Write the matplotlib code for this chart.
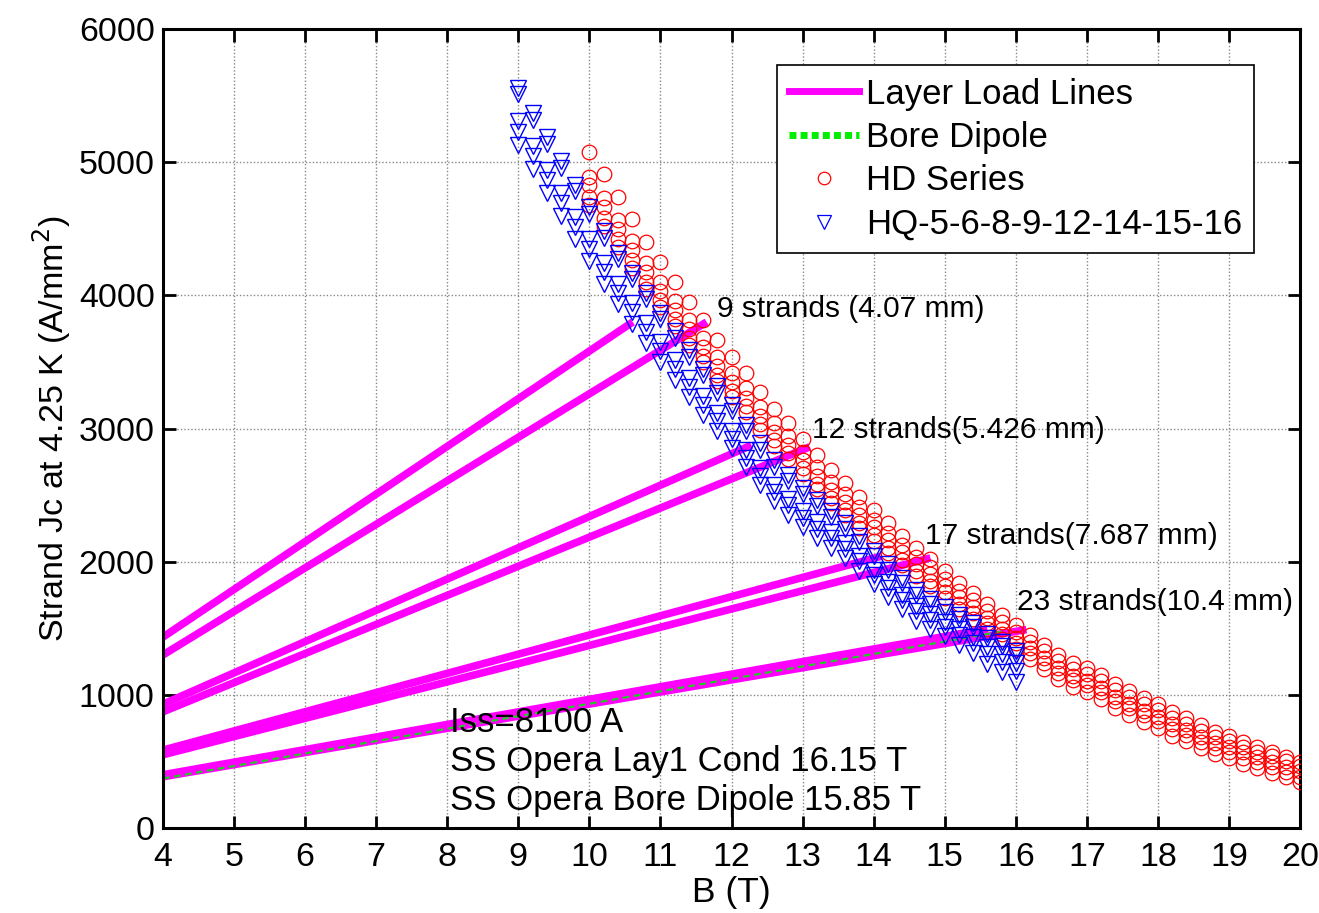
import numpy as np
import matplotlib
matplotlib.use("Agg")
import matplotlib.pyplot as plt
from matplotlib.lines import Line2D

plt.rcParams['font.family'] = ['Liberation Sans', 'DejaVu Sans']

# ---------------- data ----------------
hd_B = [10.0, 10.2, 10.4, 10.6, 10.8, 11.0, 11.2, 11.4, 11.6, 11.8,
        12.0, 12.2, 12.4, 12.6, 12.8, 13.0, 13.2, 13.4, 13.6, 13.8,
        14.0, 14.2, 14.4, 14.6, 14.8, 15.0, 15.2, 15.4, 15.6, 15.8,
        16.0, 16.2, 16.4, 16.6, 16.8, 17.0, 17.2, 17.4, 17.6, 17.8,
        18.0, 18.2, 18.4, 18.6, 18.8, 19.0, 19.2, 19.4, 19.6, 19.8, 20.0]
hd_1 = [5080, 4910, 4740, 4573, 4403, 4252, 4102, 3952, 3815, 3664,
        3539, 3416, 3275, 3146, 3041, 2921, 2801, 2688, 2590, 2486,
        2388, 2290, 2193, 2102, 2020, 1930, 1840, 1765, 1682, 1600,
        1524, 1449, 1374, 1299, 1239, 1201, 1149, 1081, 1029, 976,
        931, 871, 826, 773, 721, 691, 646, 608, 571, 533, 496]
hd_2 = [4890, 4728, 4566, 4407, 4245, 4102, 3958, 3814, 3683, 3538,
        3419, 3301, 3165, 3041, 2941, 2826, 2710, 2601, 2507, 2407,
        2313, 2218, 2124, 2036, 1957, 1870, 1782, 1709, 1628, 1548,
        1474, 1400, 1326, 1252, 1193, 1156, 1104, 1036, 984, 931,
        886, 827, 783, 731, 680, 651, 608, 572, 537, 501, 466]
hd_3 = [4830, 4666, 4502, 4341, 4177, 4032, 3888, 3744, 3613, 3468,
        3349, 3232, 3097, 2974, 2875, 2761, 2647, 2540, 2448, 2350,
        2258, 2164, 2071, 1984, 1906, 1820, 1732, 1659, 1578, 1498,
        1424, 1350, 1276, 1202, 1143, 1106, 1054, 986, 934, 881,
        836, 779, 737, 687, 638, 611, 568, 532, 497, 461, 426]
hd_4 = [4740, 4580, 4420, 4263, 4103, 3962, 3819, 3676, 3546, 3402,
        3284, 3168, 3034, 2912, 2814, 2701, 2587, 2480, 2388, 2290,
        2198, 2106, 2015, 1930, 1854, 1770, 1685, 1615, 1537, 1460,
        1389, 1315, 1241, 1167, 1108, 1071, 1019, 951, 899, 846,
        801, 743, 700, 649, 599, 571, 528, 492, 457, 421, 386]
hd_5 = [4680, 4522, 4364, 4209, 4051, 3912, 3770, 3628, 3499, 3356,
        3239, 3124, 2991, 2870, 2773, 2661, 2547, 2440, 2348, 2250,
        2158, 2066, 1975, 1890, 1814, 1730, 1644, 1573, 1494, 1416,
        1344, 1269, 1194, 1119, 1059, 1021, 969, 901, 849, 796,
        751, 694, 652, 602, 553, 526, 484, 449, 415, 380, 346]

hq_B = [9.0, 9.2, 9.4, 9.6, 9.8, 10.0, 10.2, 10.4, 10.6, 10.8,
        11.0, 11.2, 11.4, 11.6, 11.8, 12.0, 12.2, 12.4, 12.6, 12.8,
        13.0, 13.2, 13.4, 13.6, 13.8, 14.0, 14.2, 14.4, 14.6, 14.8,
        15.0, 15.2, 15.4, 15.6, 15.8, 16.0]
hq_1 = [5560, 5370, 5190, 5010, 4830, 4660, 4480, 4320, 4170, 4020,
        3870, 3730, 3590, 3450, 3320, 3180, 3030, 2890, 2760, 2650,
        2550, 2460, 2380, 2290, 2190, 2080, 1980, 1880, 1790, 1720,
        1660, 1600, 1540, 1460, 1400, 1330]
hq_2 = [5510, 5320, 5140, 4960, 4780, 4610, 4430, 4270, 4120, 3970,
        3820, 3680, 3540, 3400, 3270, 3130, 2981, 2842, 2713, 2604,
        2505, 2416, 2337, 2248, 2149, 2040, 1941, 1842, 1753, 1684,
        1625, 1566, 1507, 1428, 1369, 1300]
hq_3 = [5310, 5122, 4944, 4766, 4588, 4420, 4244, 4088, 3942, 3796,
        3650, 3514, 3378, 3242, 3116, 2980, 2836, 2702, 2578, 2474,
        2380, 2296, 2222, 2138, 2044, 1940, 1846, 1752, 1668, 1604,
        1550, 1494, 1438, 1362, 1306, 1240]
hq_4 = [5230, 5044, 4868, 4692, 4516, 4350, 4174, 4018, 3872, 3726,
        3580, 3446, 3312, 3178, 3054, 2920, 2778, 2646, 2524, 2422,
        2330, 2248, 2176, 2094, 2002, 1900, 1806, 1712, 1628, 1564,
        1510, 1450, 1390, 1310, 1250, 1180]
hq_5 = [5130, 4946, 4772, 4598, 4424, 4260, 4086, 3932, 3788, 3644,
        3500, 3368, 3236, 3104, 2982, 2850, 2708, 2576, 2454, 2352,
        2260, 2178, 2106, 2024, 1932, 1830, 1736, 1642, 1558, 1494,
        1440, 1378, 1316, 1234, 1172, 1100]

# layer load lines: start (B, J) -> end (B, J)
load_B0 = [4, 4, 4, 4, 4, 4, 4, 4]
load_J0 = [1434, 1300, 930, 873, 585, 550, 400, 385]
load_B1 = [10.61, 11.65, 12.28, 13.10, 14.10, 14.80, 15.60, 16.15]
load_J1 = [3800, 3800, 2875, 2862, 2040, 2028, 1495, 1490]

dipole_B = [4, 15.85]
dipole_J = [372, 1480]

strand_labels = ["9 strands (4.07 mm)", "12 strands(5.426 mm)",
                 "17 strands(7.687 mm)", "23 strands(10.4 mm)"]
strand_label_B = [11.80, 13.13, 14.72, 16.02]
strand_label_J = [3897, 2988, 2192, 1697]

info_lines = ["Iss=8100 A", "SS Opera Lay1 Cond 16.15 T",
              "SS Opera Bore Dipole 15.85 T"]
info_J = [796, 496, 203]

# ---------------- plot ----------------
fig = plt.figure(figsize=(13.19, 9.13), dpi=100)
ax = fig.add_axes([0.1236, 0.0931, 0.862, 0.8751])

magenta = '#ff00ff'
for b0, j0, b1, j1 in zip(load_B0, load_J0, load_B1, load_J1):
    ax.plot([b0, b1], [j0, j1], color=magenta, lw=5.5,
            solid_capstyle='butt', zorder=2)
ax.plot(dipole_B, dipole_J, color='#22cc22', lw=1.6, ls=(0, (3, 2)), zorder=2.5)

for ser in (hd_5, hd_4, hd_3, hd_2, hd_1):
    ax.plot(hd_B, ser, ls='none', marker='o', ms=10.5, mfc='none',
            mec='red', mew=0.9, zorder=3)
for ser in (hq_5, hq_4, hq_3, hq_2, hq_1):
    ax.plot(hq_B, ser, ls='none', marker='v', ms=11.5, mfc='none',
            mec='#0000ff', mew=1.0, zorder=4)

for txt, b, j in zip(strand_labels, strand_label_B, strand_label_J):
    ax.text(b, j, txt, fontsize=21.5, ha='left', va='center', zorder=6)
for txt, j in zip(info_lines, info_J):
    ax.text(8.04, j, txt, fontsize=25, ha='left', va='center', zorder=6)

ax.set_xlim(4, 20)
ax.set_ylim(0, 6000)
ax.set_xticks(range(4, 21))
ax.set_yticks(range(0, 6001, 1000))
ax.grid(True, color='#888888', ls=(0, (1, 1.5)), lw=1.0)
ax.set_axisbelow(True)
ax.tick_params(direction='in', length=9, width=2, labelsize=24.5,
               top=True, right=True)
ax.tick_params(axis='x', pad=10)
ax.tick_params(axis='y', pad=6)
for sp in ax.spines.values():
    sp.set_linewidth(2.2)
ax.set_xlabel('B (T)', fontsize=25.5, labelpad=2)
ax.set_ylabel('Strand Jc at 4.25 K (A/mm$^2$)', fontsize=24.5, labelpad=4)

handles = [
    Line2D([], [], color=magenta, lw=5),
    Line2D([], [], color='#00ee00', lw=5, ls=(0, (1, 0.6))),
    Line2D([], [], ls='none', marker='o', ms=9, mfc='none', mec='red', mew=0.9),
    Line2D([], [], ls='none', marker='v', ms=10, mfc='none', mec='#0000ff', mew=0.9),
]
labels = ['Layer Load Lines', 'Bore Dipole', 'HD Series', 'HQ-5-6-8-9-12-14-15-16']
leg = ax.legend(handles, labels, loc='upper right', bbox_to_anchor=(0.9595, 0.9545),
                fontsize=25, frameon=True, fancybox=False, edgecolor='black',
                framealpha=1, handlelength=2.0, handletextpad=0.2,
                labelspacing=0.3, borderpad=0.35, borderaxespad=0)
leg.get_frame().set_linewidth(1.2)
leg.set_zorder(10)

fig.savefig('out.png', dpi=100)
